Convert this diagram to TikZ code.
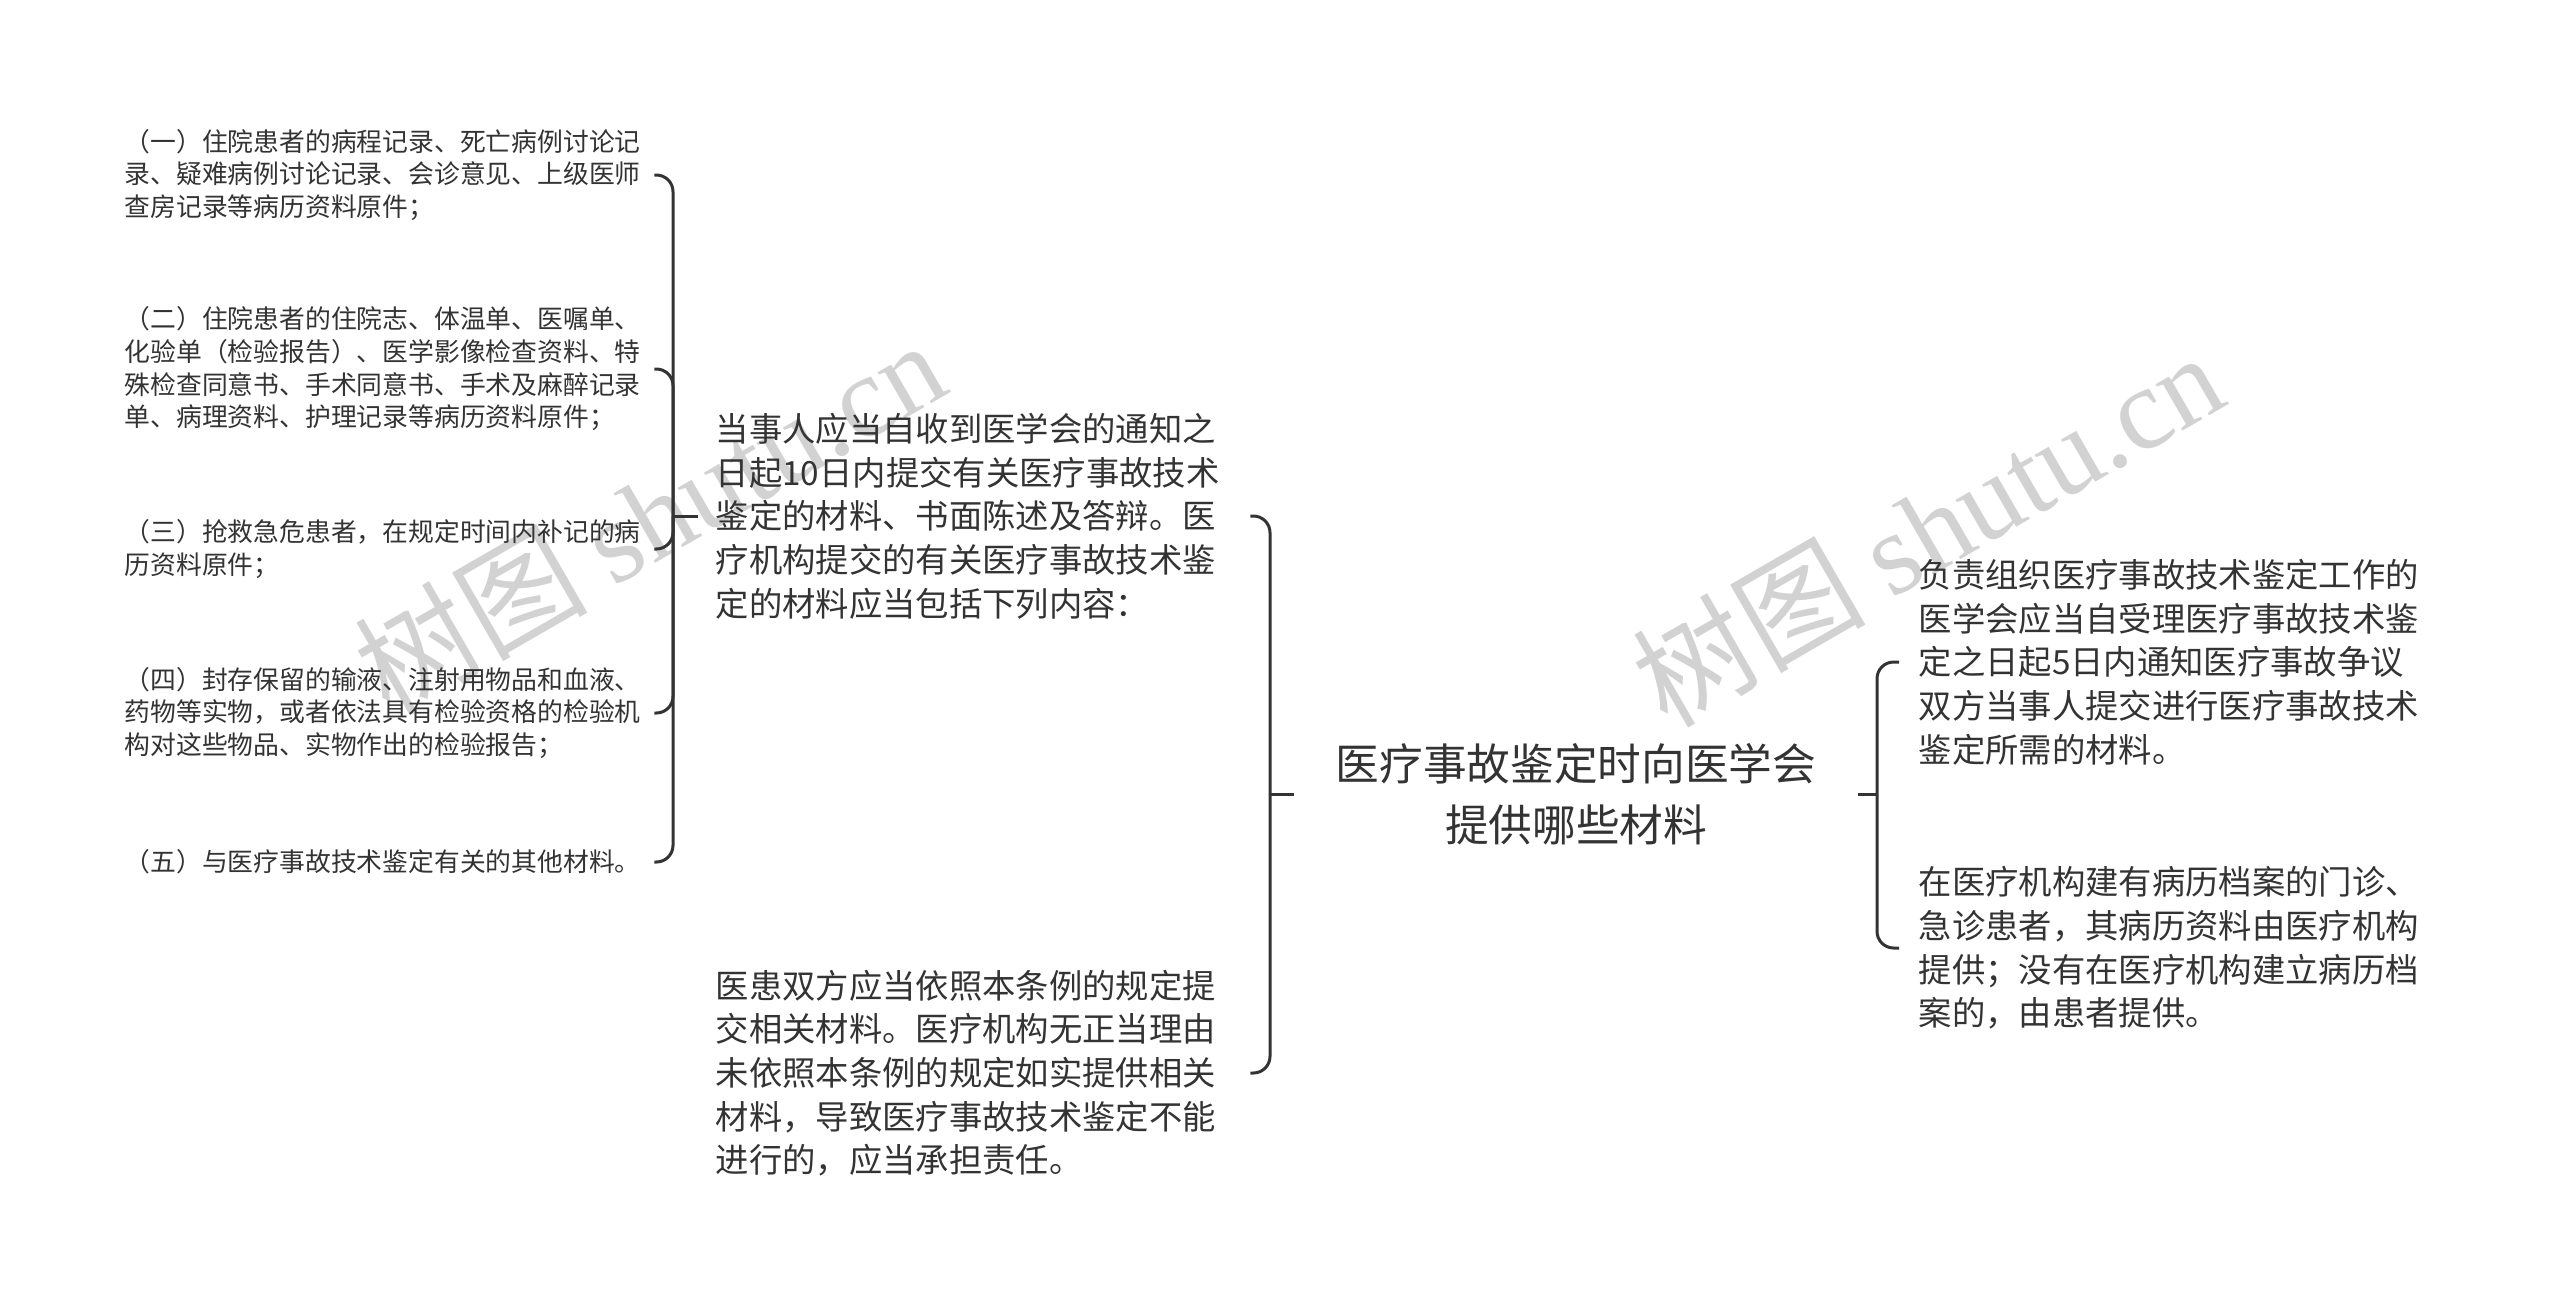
\documentclass[tikz,border=0pt]{standalone}
\usepackage{fontspec}
\setmainfont{Noto Sans CJK SC}
\newfontfamily\wmlatin{Liberation Serif}
\newfontfamily\wmcjk{Noto Sans CJK SC}
\definecolor{txt}{HTML}{333333}
\definecolor{linec}{HTML}{333333}
\definecolor{wmc}{HTML}{D2D2D2}
\begin{document}
\begin{tikzpicture}[x=0.3pt,y=-0.3pt,
  conn/.style={draw=linec, line width=0.9pt, rounded corners=5pt},
  root/.style={font=\fontsize{13.1pt}{18.3pt}\selectfont, align=center, inner xsep=12.3pt, inner ysep=4pt, text=txt},
  midnode/.style={font=\fontsize{10pt}{13.1pt}\selectfont, align=left, text width=155.1pt, inner xsep=5.1pt, inner ysep=2pt, text=txt, anchor=west},
  rnode/.style={font=\fontsize{10pt}{13.1pt}\selectfont, align=left, inner xsep=5.7pt, inner ysep=2pt, text=txt, anchor=west},
  leaf/.style={font=\fontsize{7.74pt}{9.8pt}\selectfont, align=left, inner xsep=3.9pt, inner ysep=2pt, text=txt, anchor=west},
  wm/.style={text=wmc, rotate=30, inner sep=0pt}
]
\fill[white] (0,0) rectangle (2560,1309);
\useasboundingbox (0,0) rectangle (2560,1309);

% watermarks
\node[wm] (wm1) at (649,516) {\fontsize{35pt}{35pt}\wmcjk 树图 \wmlatin shutu.cn};
\node[wm] (wm2) at (1927,528) {\fontsize{35pt}{35pt}\wmcjk 树图 \wmlatin shutu.cn};

% root
\node[root] (C) at (1576,794) {医疗事故鉴定时向医学会\\提供哪些材料};

% right children
\node[rnode] (R1) at (1899,662) {负责组织医疗事故技术鉴定工作的\\医学会应当自受理医疗事故技术鉴\\定之日起5日内通知医疗事故争议\\双方当事人提交进行医疗事故技术\\鉴定所需的材料。};
\node[rnode] (R2) at (1899,948) {在医疗机构建有病历档案的门诊、\\急诊患者，其病历资料由医疗机构\\提供；没有在医疗机构建立病历档\\案的，由患者提供。};

% middle children
\node[midnode] (M1) at (698,516) {当事人应当自收到医学会的通知之\\日起10日内提交有关医疗事故技术\\鉴定的材料、书面陈述及答辩。医\\疗机构提交的有关医疗事故技术鉴\\定的材料应当包括下列内容：};
\node[midnode] (M2) at (698,1073) {医患双方应当依照本条例的规定提\\交相关材料。医疗机构无正当理由\\未依照本条例的规定如实提供相关\\材料，导致医疗事故技术鉴定不能\\进行的，应当承担责任。};

% leaves
\node[leaf] (L1) at (111,175) {（一）住院患者的病程记录、死亡病例讨论记\\录、疑难病例讨论记录、会诊意见、上级医师\\查房记录等病历资料原件；};
\node[leaf] (L2) at (111,369) {（二）住院患者的住院志、体温单、医嘱单、\\化验单（检验报告）、医学影像检查资料、特\\殊检查同意书、手术同意书、手术及麻醉记录\\单、病理资料、护理记录等病历资料原件；};
\node[leaf] (L3) at (111,549) {（三）抢救急危患者，在规定时间内补记的病\\历资料原件；};
\node[leaf] (L4) at (111,713) {（四）封存保留的输液、注射用物品和血液、\\药物等实物，或者依法具有检验资格的检验机\\构对这些物品、实物作出的检验报告；};
\node[leaf] (L5) at (111,862) {（五）与医疗事故技术鉴定有关的其他材料。};

% junction coordinates
\coordinate (jR) at (1877,794);
\coordinate (jM) at (1270,794);
\coordinate (jL) at (673,516);

% right bracket
\draw[conn] (C.east) -- (jR);
\draw[conn] (jR) |- (R1.west);
\draw[conn] (jR) |- (R2.west);

% middle bracket
\draw[conn] (C.west) -- (jM);
\draw[conn] (jM) |- (M1.east);
\draw[conn] (jM) |- (M2.east);

% left bracket
\draw[conn] (M1.west) -- (jL);
\draw[conn] (jL) |- (L1.east);
\draw[conn] (jL) |- (L2.east);
\draw[conn] (jL) |- (L3.east);
\draw[conn] (jL) |- (L4.east);
\draw[conn] (jL) |- (L5.east);
\end{tikzpicture}
\end{document}
